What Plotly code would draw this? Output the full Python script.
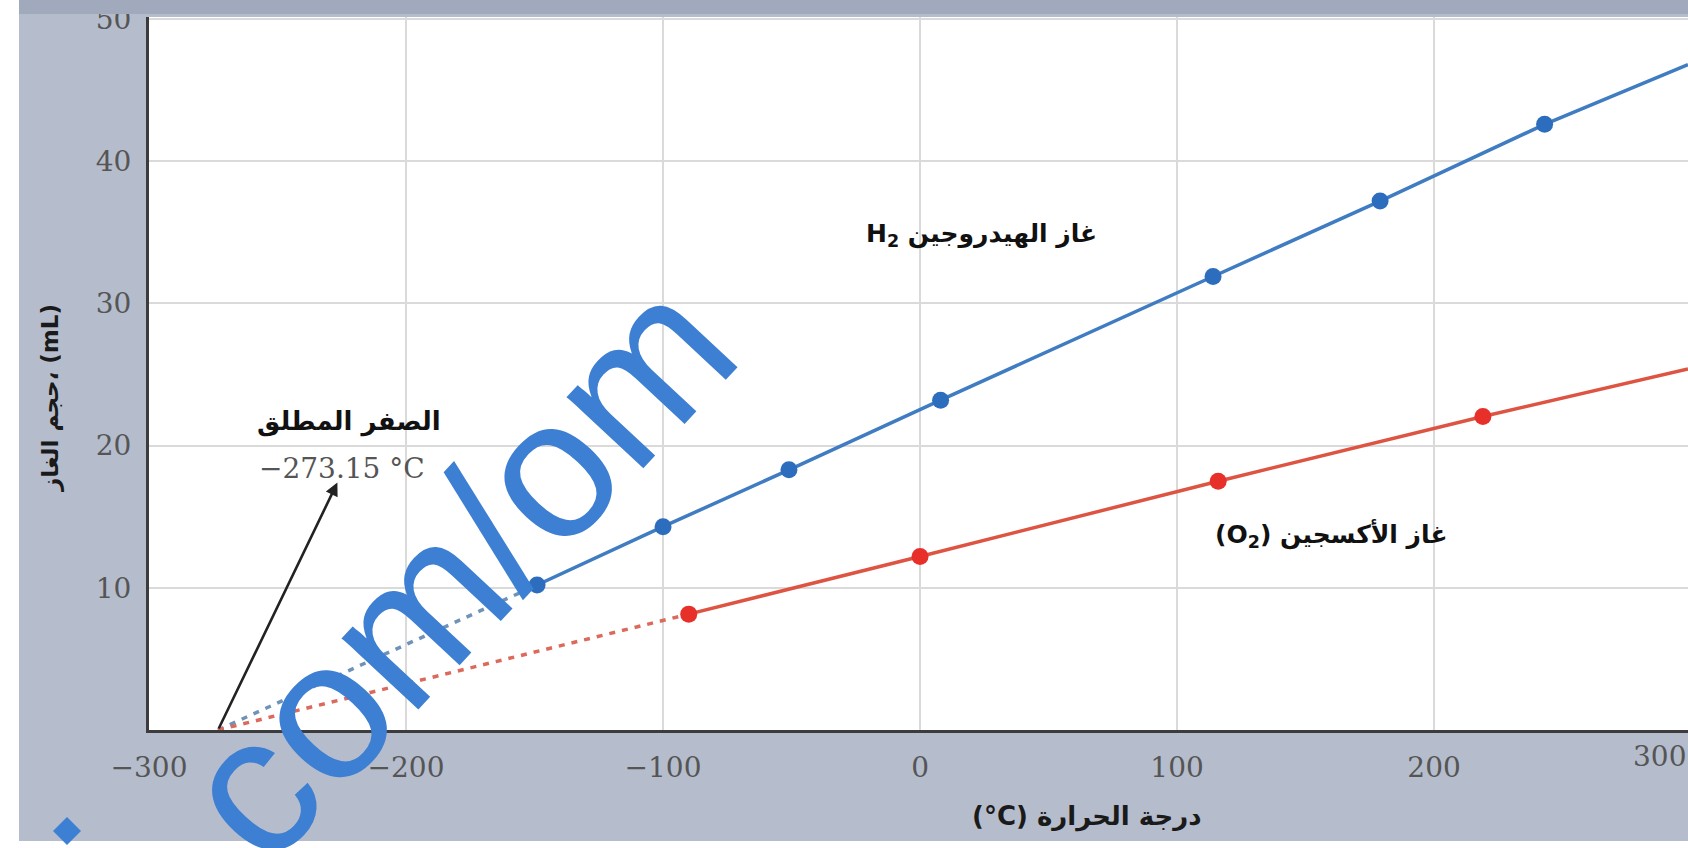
import plotly.graph_objects as go

# Charles's law: gas volume versus temperature for two gases
h2_temp = [-149, -100, -51, 8, 114, 179, 243]
h2_vol = [10.2, 14.3, 18.3, 23.2, 31.9, 37.2, 42.6]
o2_temp = [-90, 0, 116, 219]
o2_vol = [8.15, 12.2, 17.5, 22.05]

# straight-line fits continued to the right edge of the axis
edge_temp = 298.8
h2_edge_vol = 46.8
o2_edge_vol = 25.4

# extrapolation down to absolute zero
abs_zero = -273.15

x_ticks = [-300, -200, -100, 0, 100, 200]
x_tick_text = ["−300", "−200", "−100", "0", "100", "200"]
y_ticks = [10, 20, 30, 40, 50]

W, H = 1688, 848
ML, MR, MT, MB = 149, 0, 17, 118
PW, PH = W - ML - MR, H - MT - MB


def px(x):
    return (x - ML) / PW


def py(y):
    return (H - MB - y) / PH


BLUE_LINE = "#3f7cc2"
BLUE_MARK = "#2d6dbd"
RED_LINE = "#de5443"
RED_MARK = "#e8302a"
BG = "#b5bdcc"
MARK_BLUE = "#3d7fd3"

fig = go.Figure()

fig.add_trace(go.Scatter(
    x=[abs_zero, h2_temp[0]], y=[0, h2_vol[0]], mode="lines",
    line=dict(color="#6f93b8", width=3.5, dash="6px,7px"), hoverinfo="skip"))
fig.add_trace(go.Scatter(
    x=[abs_zero, o2_temp[0]], y=[0, o2_vol[0]], mode="lines",
    line=dict(color="#dc6a5c", width=3.5, dash="6px,7px"), hoverinfo="skip"))

fig.add_trace(go.Scatter(
    x=h2_temp + [edge_temp], y=h2_vol + [h2_edge_vol], mode="lines",
    line=dict(color=BLUE_LINE, width=3.5), hoverinfo="skip"))
fig.add_trace(go.Scatter(
    x=o2_temp + [edge_temp], y=o2_vol + [o2_edge_vol], mode="lines",
    line=dict(color=RED_LINE, width=3.5), hoverinfo="skip"))

fig.add_trace(go.Scatter(
    x=h2_temp, y=h2_vol, mode="markers",
    marker=dict(color=BLUE_MARK, size=17)))
fig.add_trace(go.Scatter(
    x=o2_temp, y=o2_vol, mode="markers",
    marker=dict(color=RED_MARK, size=17)))

tick_font = dict(family="DejaVu Serif", size=28, color="#555555")
ar_font = "DejaVu Sans"

fig.update_xaxes(
    range=[-300, edge_temp], tickvals=x_ticks, ticktext=x_tick_text,
    showgrid=True, gridcolor="#dadada", gridwidth=1.5,
    showline=True, linecolor="#3c3c3c", linewidth=3,
    zeroline=False, ticks="", tickfont=tick_font, ticklabelstandoff=10,
    fixedrange=True)
fig.update_yaxes(
    range=[0, 50.15], tickvals=y_ticks,
    showgrid=True, gridcolor="#dadada", gridwidth=1.5,
    showline=True, linecolor="#3c3c3c", linewidth=3,
    zeroline=False, ticks="", tickfont=tick_font, ticklabelstandoff=9,
    fixedrange=True)

annotations = [
    # last x tick label, pulled in from the clipped edge
    dict(x=px(1659), y=py(756), xref="paper", yref="paper", text="300",
         showarrow=False, font=tick_font, xanchor="center", yanchor="middle"),
    # axis titles
    dict(x=px(1087), y=py(816), xref="paper", yref="paper",
         text="(°C) درجة الحرارة", showarrow=False,
         xanchor="center", yanchor="middle",
         font=dict(family=ar_font, size=26, color="#1a1a1a", weight="bold")),
    dict(x=px(50), y=py(398), xref="paper", yref="paper",
         text="حجم الغاز، (mL)", textangle=-90, showarrow=False,
         xanchor="center", yanchor="middle",
         font=dict(family=ar_font, size=23, color="#1a1a1a", weight="bold")),
    # series labels
    dict(x=24, y=34.8, xref="x", yref="y",
         text="H<sub>2</sub> غاز الهيدروجين", showarrow=False,
         font=dict(family=ar_font, size=25, color="#111111", weight="bold")),
    dict(x=160, y=13.7, xref="x", yref="y",
         text="(O<sub>2</sub>) غاز الأكسجين", showarrow=False,
         font=dict(family=ar_font, size=25, color="#111111", weight="bold")),
    # absolute zero callout
    dict(x=-222, y=21.7, xref="x", yref="y", text="الصفر المطلق",
         showarrow=False,
         font=dict(family=ar_font, size=26, color="#111111", weight="bold")),
    dict(x=-225, y=18.4, xref="x", yref="y", text="−273.15 °C",
         showarrow=False,
         font=dict(family="DejaVu Serif", size=28, color="#555555")),
    dict(x=-226.7, y=17.4, xref="x", yref="y", ax=abs_zero, ay=0,
         axref="x", ayref="y", text="", showarrow=True,
         arrowhead=2, arrowsize=1.0, arrowwidth=2.6, arrowcolor="#222222"),
    # site watermark
    dict(x=px(456), y=py(568), xref="paper", yref="paper", text="com/om",
         textangle=-47, showarrow=False, xanchor="center", yanchor="middle",
         font=dict(family="Liberation Sans", size=198, color=MARK_BLUE)),
]

shapes = [
    # darker strip along the top edge
    dict(type="rect", xref="paper", yref="paper", x0=px(19), x1=px(W),
         y0=py(14), y1=py(0), fillcolor="#a0aabc", line_width=0,
         layer="above"),
    # white margins of the scan
    dict(type="rect", xref="paper", yref="paper", x0=px(0), x1=px(19),
         y0=py(H), y1=py(0), fillcolor="white", line_width=0),
    dict(type="rect", xref="paper", yref="paper", x0=px(0), x1=px(W),
         y0=py(H), y1=py(841), fillcolor="white", line_width=0),
    # watermark dot
    dict(type="path", xref="paper", yref="paper",
         path="M {a},{b} L {c},{d} L {a},{e} L {f},{d} Z".format(
             a=px(67), b=py(817), c=px(81), d=py(831), e=py(845), f=px(53)),
         fillcolor=MARK_BLUE, line_width=0, layer="above"),
]

fig.update_layout(
    width=W, height=H,
    margin=dict(l=ML, r=MR, t=MT, b=MB, pad=0),
    paper_bgcolor=BG, plot_bgcolor="white",
    showlegend=False,
    annotations=annotations, shapes=shapes,
)

fig.write_html("out.html", config={"displayModeBar": False})
